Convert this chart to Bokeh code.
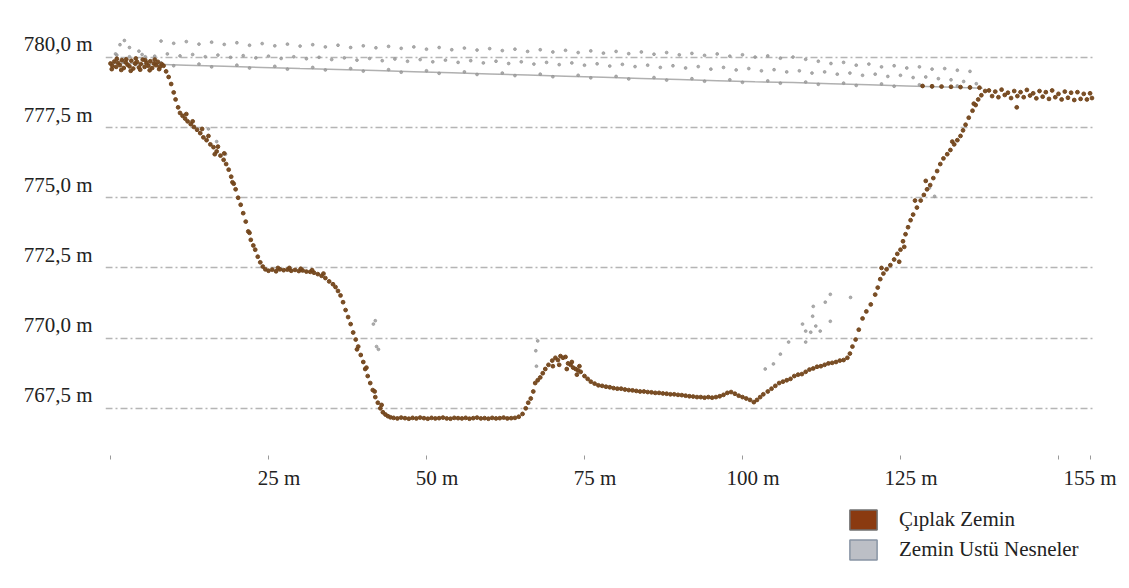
from bokeh.plotting import figure
from bokeh.layouts import column
from bokeh.models import FixedTicker, CustomJSTickFormatter, Legend, LegendItem
from bokeh.embed import file_html
from bokeh.resources import INLINE

# ---------------- data ----------------
y_ticks = [767.5, 770.0, 772.5, 775.0, 777.5, 780.0]
x_ticks = [0, 25, 50, 75, 100, 125, 150, 155]
x_unlabelled = [0, 150]
series_names = ["Çıplak Zemin", "Zemin Ustü Nesneler"]

# bare ground points (x in m, elevation in m)
ground_top_left = [
    (0.0, 779.78), (0.3, 779.70), (0.6, 779.85), (0.9, 779.66), (1.2, 779.80), (1.5, 779.72),
    (1.8, 779.90), (2.1, 779.62), (2.4, 779.82), (2.7, 779.74), (3.0, 779.68), (3.3, 779.88),
    (3.6, 779.60), (3.9, 779.78), (4.2, 779.84), (4.5, 779.64), (4.8, 779.76), (5.1, 779.92),
    (5.4, 779.66), (5.7, 779.80), (6.0, 779.70), (6.3, 779.86), (6.6, 779.62), (6.9, 779.78),
    (7.2, 779.72), (7.5, 779.84), (7.8, 779.66), (8.1, 779.76), (8.4, 779.70),
    (0.2, 779.58), (1.0, 779.95), (1.7, 779.55), (2.5, 779.93), (3.2, 779.52), (4.0, 779.96),
    (4.7, 779.56), (5.5, 779.90), (6.2, 779.54), (7.0, 779.92), (7.7, 779.58),
]
ground_left_slope = [
    (8.8, 779.50), (9.2, 779.30), (9.6, 779.05), (10.0, 778.75), (10.3, 778.50), (10.7, 778.22),
    (11.0, 778.02), (11.4, 777.92), (11.8, 777.82), (12.2, 777.72), (12.7, 777.62), (13.2, 777.52),
    (13.7, 777.42), (14.2, 777.30), (14.7, 777.15), (15.2, 777.05), (15.8, 776.90), (16.3, 776.80),
    (16.8, 776.65), (17.4, 776.50), (17.9, 776.35), (18.3, 776.20), (18.7, 776.00), (19.1, 775.75),
    (19.5, 775.50), (19.8, 775.30), (20.2, 775.00), (20.6, 774.75), (21.0, 774.45), (21.4, 774.15),
    (21.8, 773.80), (22.2, 773.50), (22.6, 773.30), (22.9, 773.15), (23.3, 772.90), (23.7, 772.70),
    (24.1, 772.55), (24.5, 772.45),
    (12.0, 777.98), (13.0, 777.72), (14.5, 777.45), (15.5, 777.20), (16.5, 776.55), (17.0, 776.82),
    (18.0, 776.58), (19.3, 775.55), (22.0, 773.75),
]
ground_terrace = [
    (25.0, 772.40), (25.6, 772.44), (26.2, 772.38), (26.8, 772.45), (27.4, 772.42), (28.0, 772.44),
    (28.6, 772.40), (29.2, 772.43), (29.8, 772.39), (30.4, 772.41), (31.0, 772.37), (31.6, 772.36),
    (32.2, 772.33), (32.8, 772.28), (33.4, 772.22), (34.0, 772.14), (34.6, 772.02),
    (26.5, 772.50), (28.3, 772.50), (30.1, 772.47), (31.9, 772.42), (33.7, 772.30),
]
ground_right_bank = [
    (35.2, 771.92), (35.6, 771.82), (36.0, 771.68), (36.4, 771.52), (36.8, 771.28), (37.2, 771.00),
    (37.6, 770.75), (38.0, 770.50), (38.4, 770.20), (38.8, 769.95), (39.2, 769.70), (39.6, 769.40),
    (40.0, 769.15), (40.3, 768.90), (40.7, 768.65), (41.1, 768.40), (41.5, 768.15), (41.9, 767.90),
    (42.3, 767.70), (42.7, 767.50), (43.1, 767.36), (43.5, 767.28), (43.9, 767.22), (44.3, 767.18),
    (39.0, 769.60), (40.5, 768.95), (41.8, 768.10), (42.9, 767.62),
]
ground_channel = [
    (44.8, 767.16), (45.4, 767.14), (46.0, 767.17), (46.6, 767.15), (47.2, 767.13), (47.8, 767.16),
    (48.4, 767.14), (49.0, 767.17), (49.6, 767.15), (50.2, 767.13), (50.8, 767.16), (51.4, 767.14),
    (52.0, 767.15), (52.6, 767.17), (53.2, 767.14), (53.8, 767.13), (54.4, 767.16), (55.0, 767.15),
    (55.6, 767.14), (56.2, 767.16), (56.8, 767.13), (57.4, 767.15), (58.0, 767.17), (58.6, 767.14),
    (59.2, 767.15), (59.8, 767.13), (60.4, 767.16), (61.0, 767.14), (61.6, 767.15), (62.2, 767.17),
    (62.8, 767.14), (63.4, 767.15), (64.0, 767.16), (64.6, 767.20),
]
ground_mound = [
    (65.2, 767.30), (65.7, 767.50), (66.1, 767.70), (66.5, 767.85), (66.9, 768.10), (67.2, 768.40),
    (67.6, 768.50), (68.0, 768.60), (68.4, 768.75), (68.8, 768.90), (69.3, 769.05), (69.9, 769.20),
    (70.4, 769.30), (70.8, 769.22), (71.2, 769.36), (71.6, 769.30), (72.0, 769.33), (72.4, 769.10),
    (72.8, 769.05), (73.2, 768.95), (73.6, 768.90), (74.0, 768.85), (74.4, 768.80),
    (70.0, 769.00), (71.0, 769.05), (72.2, 768.90), (73.0, 769.15), (74.2, 769.00), (73.8, 768.70),
]
ground_floodplain = [
    (75.0, 768.65), (75.5, 768.55), (76.0, 768.45), (76.6, 768.38), (77.2, 768.32), (77.8, 768.30),
    (78.4, 768.27), (79.0, 768.25), (79.6, 768.22), (80.2, 768.20), (80.8, 768.20), (81.4, 768.17),
    (82.0, 768.15), (82.6, 768.14), (83.2, 768.12), (83.8, 768.10), (84.4, 768.10), (85.0, 768.08),
    (85.6, 768.07), (86.2, 768.05), (86.8, 768.05), (87.4, 768.03), (88.0, 768.02), (88.6, 768.00),
    (89.2, 768.00), (89.8, 767.98), (90.4, 767.97), (91.0, 767.95), (91.6, 767.93), (92.2, 767.92),
    (92.8, 767.90), (93.4, 767.90), (94.0, 767.88), (94.6, 767.90), (95.2, 767.88), (95.8, 767.90),
    (96.4, 767.93), (97.0, 767.98), (97.6, 768.05), (98.2, 768.08), (98.8, 768.02), (99.4, 767.95),
    (100.0, 767.90), (100.6, 767.85), (101.2, 767.80), (101.8, 767.72), (102.3, 767.80),
    (102.8, 767.90), (103.3, 768.00),
]
ground_gentle_rise = [
    (104.0, 768.10), (104.6, 768.20), (105.2, 768.30), (105.8, 768.40), (106.4, 768.45),
    (107.0, 768.50), (107.6, 768.55), (108.2, 768.65), (108.8, 768.70), (109.4, 768.72),
    (110.0, 768.80), (110.6, 768.88), (111.2, 768.92), (111.8, 768.98), (112.4, 769.00),
    (113.0, 769.05), (113.6, 769.10), (114.2, 769.12), (114.8, 769.15), (115.4, 769.20),
    (116.0, 769.22), (116.6, 769.30), (117.0, 769.45),
]
ground_right_slope = [
    (117.4, 769.70), (117.9, 769.95), (118.4, 770.30), (119.0, 770.70), (119.6, 770.95),
    (120.3, 771.20), (121.0, 771.55), (121.4, 771.80), (121.8, 772.10), (122.3, 772.30),
    (122.8, 772.45), (123.4, 772.60), (124.0, 772.80), (124.5, 773.00), (125.0, 773.15),
    (125.4, 773.45), (125.8, 773.70), (126.2, 773.95), (126.6, 774.20), (127.0, 774.40),
    (127.6, 774.65), (128.2, 774.90), (128.7, 775.10), (129.2, 775.30), (129.7, 775.45),
    (130.2, 775.70), (130.8, 775.95), (131.3, 776.20), (131.8, 776.40), (132.4, 776.55),
    (132.9, 776.70), (133.5, 776.90), (134.0, 777.05), (134.5, 777.20), (134.9, 777.40),
    (135.3, 777.60), (135.8, 777.85), (136.4, 778.10), (136.9, 778.30), (137.3, 778.50),
    (137.8, 778.65), (138.4, 778.80),
    (122.0, 772.50), (124.8, 772.72), (125.6, 773.25), (127.3, 774.90), (129.0, 775.60),
    (133.2, 777.00), (136.6, 778.35),
]
ground_top_right = [
    (128.5, 778.98), (130.0, 778.97), (131.5, 778.96), (133.0, 778.95), (134.5, 778.94),
    (136.0, 778.93), (137.5, 778.92),
    (139.0, 778.82), (139.5, 778.62), (140.0, 778.78), (140.5, 778.58), (141.0, 778.85),
    (141.5, 778.66), (142.0, 778.74), (142.5, 778.55), (143.0, 778.80), (143.4, 778.22),
    (143.5, 778.62), (144.0, 778.76), (144.5, 778.58), (145.0, 778.84), (145.5, 778.64),
    (146.0, 778.72), (146.5, 778.54), (147.0, 778.80), (147.5, 778.60), (148.0, 778.76),
    (148.5, 778.52), (149.0, 778.82), (149.5, 778.58), (150.0, 778.70), (150.5, 778.50),
    (151.0, 778.78), (151.5, 778.56), (152.0, 778.74), (152.5, 778.48), (153.0, 778.76),
    (153.5, 778.52), (154.0, 778.70), (154.5, 778.50), (155.0, 778.72), (155.3, 778.55),
]

# above-ground object points
objects_wire = [
    (0, 779.80), (6, 779.76), (12, 779.72), (18, 779.68), (24, 779.64), (30, 779.60), (36, 779.57),
    (42, 779.53), (48, 779.49), (54, 779.45), (60, 779.41), (66, 779.37), (72, 779.33), (78, 779.29),
    (84, 779.25), (90, 779.21), (96, 779.17), (102, 779.13), (108, 779.10), (114, 779.06),
    (120, 779.02), (126, 778.98), (132, 778.94), (138, 778.90),
]
objects_top_row = [
    (8, 780.58), (10, 780.50), (12, 780.56), (14, 780.47), (16, 780.54), (18, 780.46), (20, 780.52),
    (22, 780.43), (24, 780.49), (26, 780.41), (28, 780.47), (30, 780.40), (32, 780.45), (34, 780.37),
    (36, 780.43), (38, 780.35), (40, 780.41), (42, 780.34), (44, 780.39), (46, 780.32), (48, 780.37),
    (50, 780.29), (52, 780.35), (54, 780.27), (56, 780.33), (58, 780.26), (60, 780.31), (62, 780.24),
    (64, 780.29), (66, 780.21), (68, 780.27), (70, 780.19), (72, 780.25), (74, 780.17), (76, 780.23),
    (78, 780.15), (80, 780.21), (82, 780.13), (84, 780.19), (86, 780.11), (88, 780.17), (90, 780.09),
    (92, 780.14), (94, 780.07), (96, 780.12), (98, 780.04), (100, 780.09), (102, 780.01),
    (104, 780.05), (106, 779.97), (108, 780.01), (110, 779.93), (112, 779.86), (114, 779.78),
    (116, 779.82), (118, 779.72), (120, 779.76), (122, 779.66), (124, 779.70), (126, 779.62),
    (128, 779.66), (130, 779.58), (132, 779.60), (134, 779.54), (136, 779.50),
    (1.5, 780.45), (2.2, 780.60), (3.0, 780.35), (0.8, 780.12), (4.5, 780.22), (5.5, 780.02),
]
objects_mid_row = [
    (1, 780.08), (3, 780.02), (5, 780.10), (7, 780.04), (9, 780.12), (11, 780.05), (13, 780.10),
    (15, 780.02), (17, 780.08), (19, 780.00), (21, 780.06), (23, 779.98), (25, 780.04), (27, 779.96),
    (29, 780.02), (31, 779.95), (33, 780.00), (35, 779.92), (37, 779.98), (39, 779.90), (41, 779.96),
    (43, 779.88), (45, 779.94), (47, 779.86), (49, 779.92), (51, 779.84), (53, 779.90), (55, 779.82),
    (57, 779.88), (59, 779.80), (61, 779.86), (63, 779.78), (65, 779.84), (67, 779.76), (69, 779.82),
    (71, 779.74), (73, 779.80), (75, 779.72), (77, 779.77), (79, 779.69), (81, 779.75), (83, 779.67),
    (85, 779.72), (87, 779.64), (89, 779.70), (91, 779.62), (93, 779.67), (95, 779.58), (97, 779.64),
    (99, 779.55), (101, 779.60), (103, 779.52), (105, 779.56), (107, 779.48), (109, 779.52),
    (111, 779.44), (113, 779.48), (115, 779.40), (117, 779.44), (119, 779.36), (121, 779.40),
    (123, 779.32), (125, 779.36), (127, 779.28), (129, 779.30), (131, 779.24), (133, 779.20),
    (135, 779.14), (137, 779.06),
]
objects_low_row = [
    (2, 779.84), (4, 779.74), (8, 779.80), (10, 779.70), (14, 779.76), (16, 779.66), (20, 779.72),
    (22, 779.62), (26, 779.68), (28, 779.58), (32, 779.64), (34, 779.55), (38, 779.60), (40, 779.51),
    (44, 779.56), (46, 779.47), (50, 779.52), (52, 779.43), (56, 779.48), (58, 779.39), (62, 779.44),
    (64, 779.35), (68, 779.40), (70, 779.31), (74, 779.36), (76, 779.27), (80, 779.32), (82, 779.23),
    (86, 779.28), (88, 779.19), (92, 779.24), (94, 779.15), (98, 779.20), (100, 779.11),
    (104, 779.16), (106, 779.08), (110, 779.12), (112, 779.04), (116, 779.08), (118, 779.00),
    (122, 779.05), (124, 778.97), (128, 779.02), (130, 778.94), (134, 778.98), (136, 778.90),
]
objects_scattered = [
    (41.6, 770.50), (41.9, 770.62), (42.4, 769.60), (42.1, 769.70),
    (67.6, 769.90), (67.4, 769.00), (67.3, 769.55),
    (103.6, 768.90), (104.9, 769.08), (106.0, 769.43), (107.3, 769.86), (110.0, 769.86),
    (110.8, 770.21), (110.0, 770.25), (112.3, 770.25), (111.6, 770.43), (109.5, 770.50),
    (113.9, 770.60), (111.1, 770.78), (111.2, 771.13), (113.1, 771.28), (113.9, 771.56),
    (117.1, 771.45),
    (15.5, 777.45), (16.8, 777.00), (18.2, 776.55), (129.6, 775.35), (130.4, 775.05),
]

ground_segments = [ground_top_left, ground_left_slope, ground_terrace, ground_right_bank,
                   ground_channel, ground_mound, ground_floodplain, ground_gentle_rise,
                   ground_right_slope, ground_top_right]
object_groups = [objects_top_row, objects_mid_row, objects_low_row, objects_scattered]

ground_x = [pt[0] for seg in ground_segments for pt in seg]
ground_y = [pt[1] for seg in ground_segments for pt in seg]
obj_x = [pt[0] for grp in object_groups for pt in grp]
obj_y = [pt[1] for grp in object_groups for pt in grp]
wire_x = [pt[0] for pt in objects_wire]
wire_y = [pt[1] for pt in objects_wire]

# ---------------- styling ----------------
FONT = "Liberation Serif"
GROUND_COLOR = "#73461b"
OBJECT_COLOR = "#999999"
LABEL_SHIFT = 0.46  # y labels sit slightly above their grid lines
W = 1121
NAN = float("nan")

p = figure(width=W, height=492, output_backend="svg", toolbar_location=None,
           x_range=(-0.79, 155.86), y_range=(765.82, 781.49),
           min_border_left=105, min_border_right=26, min_border_top=15, min_border_bottom=35)
p.outline_line_color = None
p.background_fill_color = "white"
p.border_fill_color = "white"

# objects (drawn first, ground on top)
p.line(wire_x, wire_y, line_color="#b0b0b0", line_width=1.5)
p.scatter(obj_x, obj_y, size=2.8, color=OBJECT_COLOR, alpha=0.8)
p.scatter(ground_x, ground_y, size=3.8, color=GROUND_COLOR, alpha=0.95)

# grid
p.xgrid.visible = False
p.ygrid.ticker = FixedTicker(ticks=y_ticks)
p.ygrid.grid_line_color = "#b5b5b5"
p.ygrid.grid_line_width = 1.6
p.ygrid.grid_line_dash = "7 3 2 3"

# y axis
p.yaxis.ticker = FixedTicker(ticks=[t + LABEL_SHIFT for t in y_ticks])
p.yaxis.formatter = CustomJSTickFormatter(
    args=dict(shift=LABEL_SHIFT),
    code="return (tick - shift).toFixed(1).replace('.', ',') + ' m';")
p.yaxis.axis_line_color = None
p.yaxis.major_tick_line_color = None
p.yaxis.minor_tick_line_color = None
p.yaxis.major_label_standoff = 7
p.yaxis.major_label_text_font = FONT
p.yaxis.major_label_text_font_size = "21px"
p.yaxis.major_label_text_color = "#222222"

# x axis
p.xaxis.ticker = FixedTicker(ticks=x_ticks)
p.xaxis.formatter = CustomJSTickFormatter(
    args=dict(skip=x_unlabelled, last=x_ticks[-1]),
    code="""
      if (skip.indexOf(tick) >= 0) return '';
      const pad = (tick == last) ? '' : '\u00a0\u00a0\u00a0\u00a0';
      return pad + tick + ' m';
    """)
p.xaxis.axis_line_color = None
p.xaxis.major_tick_line_color = "#9a9a9a"
p.xaxis.major_tick_in = 0
p.xaxis.major_tick_out = 4
p.xaxis.minor_tick_line_color = None
p.xaxis.major_label_standoff = 6
p.xaxis.major_label_text_font = FONT
p.xaxis.major_label_text_font_size = "21px"
p.xaxis.major_label_text_color = "#222222"

# legend strip below the chart (its frame is aligned with the chart frame)
lg = figure(width=W, height=88, output_backend="svg", toolbar_location=None,
            x_range=(0, 1), y_range=(0, 1), x_axis_type=None, y_axis_type=None,
            min_border=0)
lg.outline_line_color = None
lg.xgrid.visible = False
lg.ygrid.visible = False
sw1 = lg.quad(left=[NAN], right=[NAN], top=[NAN], bottom=[NAN],
              fill_color="#8a3a10", line_color="#707070", line_width=1.5)
sw2 = lg.quad(left=[NAN], right=[NAN], top=[NAN], bottom=[NAN],
              fill_color="#bcbfc6", line_color="#8894a4", line_width=1.5)
legend = Legend(items=[LegendItem(label=series_names[0], renderers=[sw1]),
                       LegendItem(label=series_names[1], renderers=[sw2])],
                location=(741, 18), orientation="vertical",
                glyph_width=34, glyph_height=25, label_height=20, spacing=5,
                label_standoff=19, padding=0, margin=0,
                border_line_color=None, background_fill_alpha=0,
                label_text_font=FONT, label_text_font_size="21px", label_text_color="#222222")
lg.add_layout(legend, "center")

layout = column(p, lg, spacing=0)
open("out.html", "w").write(file_html(layout, INLINE))
